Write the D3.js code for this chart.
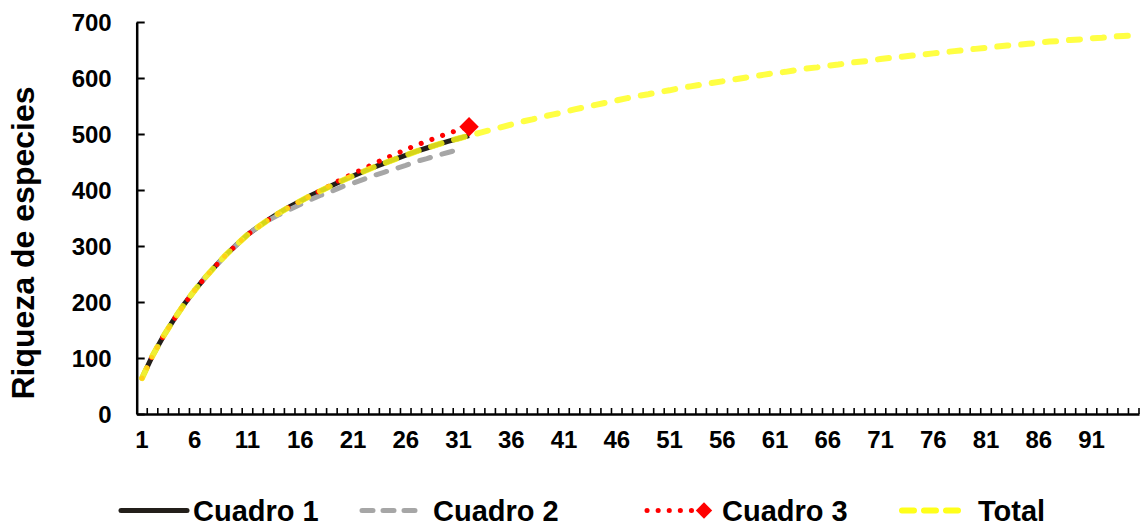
<!DOCTYPE html>
<html>
<head>
<meta charset="utf-8">
<script src="https://cdn.jsdelivr.net/npm/d3@7"></script>
<style>
  body { margin: 0; background: #fff; }
  svg text { font-family: "Liberation Sans", Arial, sans-serif; font-weight: bold; fill: #000; }
</style>
</head>
<body>
<div id="chart"></div>
<script>
// samples 1..95 (category axis)
const categories = d3.range(1, 96);
const xLabels = [1, 6, 11, 16, 21, 26, 31, 36, 41, 46, 51, 56, 61, 66, 71, 76, 81, 86, 91];
const yTicks = [0, 100, 200, 300, 400, 500, 600, 700];

// species richness
const cuadro1 = [64, 104, 138, 168, 196, 221, 244, 265, 285, 303, 320, 334, 347, 359, 370, 380,
  390, 399, 408, 417, 425, 433, 441, 448, 455, 462, 469, 475, 481, 487, 492, 497];
const cuadro2 = [64, 104, 138, 168, 196, 221, 244, 265, 285, 303, 320, 334, 346, 356, 365, 374,
  383, 391, 398, 406, 412, 419, 426, 432, 438, 444, 451, 456, 462, 467, 472];
const cuadro3 = [64, 104, 138, 168, 196, 221, 244, 265, 285, 303, 320, 334, 347, 359, 370, 380,
  390, 400, 410, 420, 429, 438, 447, 456, 464, 472, 480, 487, 494, 501, 507, 513];
const total = [64, 104, 138, 168, 196, 221, 244, 265, 285, 303, 320, 334, 347, 359, 370, 380,
  390, 399, 408, 417, 425, 433, 441, 448, 455, 462, 469, 475, 481, 487, 492, 497,
  502, 507, 512, 517, 522, 526, 531, 535, 539, 544, 548, 552, 556, 560, 564,
  568, 571, 575, 578, 582, 585, 588, 591, 594, 597, 600, 603, 606, 609, 611,
  614, 617, 619, 622, 624, 627, 629, 631, 634, 636, 638, 640, 642, 644, 646, 648,
  650, 652, 654, 656, 658, 659, 661, 663, 665, 666, 668, 669, 671, 672, 674, 675, 676];

const width = 1141, height = 529;
const margin = { left: 136.7, right: 1139, top: 22, bottom: 414 };

const svg = d3.select("#chart").append("svg")
  .attr("width", width)
  .attr("height", height);

const x = d3.scaleBand().domain(categories).range([margin.left, margin.right]).padding(0);
const y = d3.scaleLinear().domain([0, 700]).range([margin.bottom, margin.top]);
const cx = c => x(c) + x.bandwidth() / 2;

// y axis (ticks pointing into the plot)
const yAxis = svg.append("g")
  .attr("transform", `translate(${margin.left},0)`)
  .call(d3.axisLeft(y).tickValues(yTicks).tickSize(-8).tickSizeOuter(0).tickPadding(25));
yAxis.select(".domain").attr("stroke", "#000").attr("stroke-width", 2.5);
yAxis.selectAll(".tick line").attr("stroke", "#000").attr("stroke-width", 2);
yAxis.selectAll(".tick text").style("font-size", "24px").attr("dy", "0.36em");

// x axis labels
const xAxis = svg.append("g")
  .attr("transform", `translate(0,${margin.bottom})`)
  .call(d3.axisBottom(x).tickValues(xLabels).tickSize(0).tickSizeOuter(0).tickPadding(17));
xAxis.select(".domain").attr("stroke", "#000").attr("stroke-width", 2.5);
xAxis.selectAll(".tick text").style("font-size", "24px");

// category boundary ticks, pointing up
svg.append("g").selectAll("line")
  .data(categories.slice(1).concat(["end"]))
  .join("line")
  .attr("x1", d => d === "end" ? margin.right : x(d))
  .attr("x2", d => d === "end" ? margin.right : x(d))
  .attr("y1", margin.bottom)
  .attr("y2", margin.bottom - 6)
  .attr("stroke", "#000")
  .attr("stroke-width", 1.6);

const line = d3.line().x((d, i) => cx(categories[i])).y(d => y(d));

svg.append("path").datum(cuadro1)
  .attr("d", line).attr("fill", "none")
  .attr("stroke", "#231f1a").attr("stroke-width", 5);

svg.append("path").datum(cuadro2)
  .attr("d", line).attr("fill", "none")
  .attr("stroke", "#a6a6a6").attr("stroke-width", 5)
  .attr("stroke-linecap", "round").attr("stroke-dasharray", "11,12");

svg.append("path").datum(cuadro3)
  .attr("d", line).attr("fill", "none")
  .attr("stroke", "#ff0000").attr("stroke-width", 5)
  .attr("stroke-linecap", "round").attr("stroke-dasharray", "0.1,11.3");

// diamond marker at last point of Cuadro 3
const lastC3 = cuadro3.length - 1;
svg.append("path")
  .attr("d", d3.symbol(d3.symbolDiamond2, 240)())
  .attr("transform", `translate(${cx(categories[lastC3])},${y(cuadro3[lastC3])})`)
  .attr("fill", "#ff0000");

svg.append("path").datum(total)
  .attr("d", line).attr("fill", "none")
  .attr("stroke", "#ffff1a").attr("stroke-width", 6).attr("stroke-opacity", 0.82)
  .attr("stroke-linecap", "round").attr("stroke-dasharray", "11,13");

// y title
svg.append("text")
  .attr("transform", "translate(34,243) rotate(-90)")
  .attr("text-anchor", "middle")
  .style("font-size", "32px")
  .text("Riqueza de especies");

// legend
const legend = [
  { name: "Cuadro 1", x1: 121, x2: 187, tx: 193, color: "#231f1a", w: 5, dash: null },
  { name: "Cuadro 2", x1: 362, x2: 418, tx: 433, color: "#a6a6a6", w: 5, dash: "11,10" },
  { name: "Cuadro 3", x1: 647, x2: 700, tx: 722, color: "#ff0000", w: 5, dash: "0.1,11" },
  { name: "Total", x1: 902, x2: 961, tx: 978, color: "#ffff1a", w: 6, dash: "12,10" }
];
const lg = svg.append("g").selectAll("g").data(legend).join("g");
lg.append("line")
  .attr("x1", d => d.x1).attr("x2", d => d.x2)
  .attr("y1", 510.5).attr("y2", 510.5)
  .attr("stroke", d => d.color).attr("stroke-width", d => d.w)
  .attr("stroke-linecap", "round")
  .attr("stroke-dasharray", d => d.dash);
lg.append("text")
  .attr("x", d => d.tx).attr("y", 520.5)
  .style("font-size", "29px")
  .text(d => d.name);
svg.append("path")
  .attr("d", d3.symbol(d3.symbolDiamond2, 170)())
  .attr("transform", "translate(704,510.5)")
  .attr("fill", "#ff0000");
</script>
</body>
</html>
